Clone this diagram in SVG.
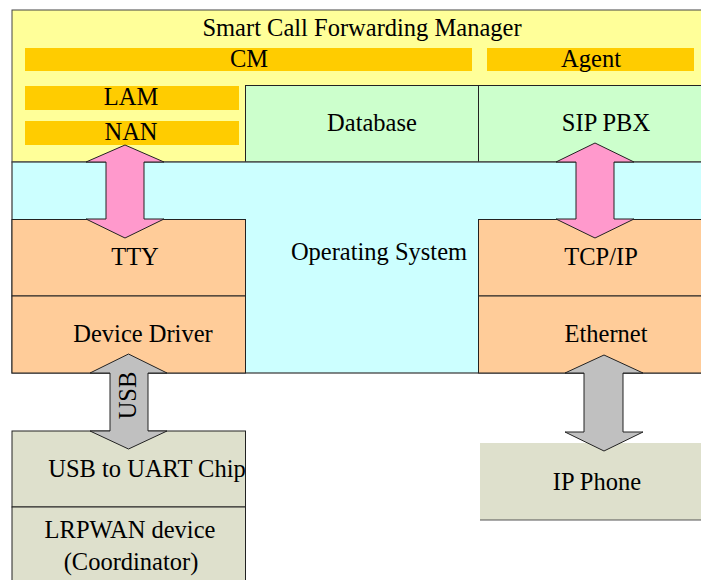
<svg xmlns="http://www.w3.org/2000/svg" width="701" height="580" viewBox="0 0 701 580">
<style>
text{font-family:"Liberation Serif","Times New Roman",serif;font-size:24.5px;fill:#000}
.m{text-anchor:middle}
.box{stroke:#222;stroke-width:1}
.bar{fill:#FFCC00}
.pink{fill:#FF99CC;stroke:#222;stroke-width:1}
.grey{fill:#C0C0C0;stroke:#222;stroke-width:1}
</style>
<rect width="701" height="580" fill="#fff"/>
<g id="scfm">
<rect x="12" y="10" width="700" height="152" fill="#FFFF99" stroke="#444" stroke-width="1"/>
<text class="m" x="362" y="36">Smart Call Forwarding Manager</text>
</g>
<g id="cm"><rect class="bar" x="25" y="48" width="447" height="23"/><text class="m" x="249" y="67">CM</text></g>
<g id="agent"><rect class="bar" x="487" y="48" width="207" height="23"/><text class="m" x="591" y="67">Agent</text></g>
<g id="lam"><rect class="bar" x="25" y="86" width="214" height="24"/><text class="m" x="131" y="105">LAM</text></g>
<g id="nan"><rect class="bar" x="25" y="121" width="214" height="24"/><text class="m" x="131" y="140">NAN</text></g>
<g id="database"><rect class="box" x="245.5" y="85.5" width="233" height="76.5" fill="#CCFFCC"/><text class="m" x="372" y="131">Database</text></g>
<g id="sippbx"><rect class="box" x="478.5" y="85.5" width="240" height="76.5" fill="#CCFFCC"/><text class="m" x="606" y="131">SIP PBX</text></g>
<g id="os"><rect x="12" y="162" width="710" height="211" fill="#CCFFFF" stroke="#444" stroke-width="1.3"/><text class="m" x="379" y="260">Operating System</text></g>
<g id="tty"><rect class="box" x="12" y="219.5" width="233.5" height="76.5" fill="#FFCC99"/><text class="m" x="135" y="265">TTY</text></g>
<g id="devdrv"><rect class="box" x="12" y="296" width="233.5" height="77" fill="#FFCC99"/><text class="m" x="143" y="342">Device Driver</text></g>
<g id="tcpip"><rect class="box" x="478.5" y="219.5" width="240" height="76.5" fill="#FFCC99"/><text class="m" x="601" y="265">TCP/IP</text></g>
<g id="ethernet"><rect class="box" x="478.5" y="296" width="240" height="77" fill="#FFCC99"/><text class="m" x="606" y="342">Ethernet</text></g>
<g id="uart"><rect class="box" x="12" y="431" width="233.5" height="76" fill="#DEE0CC"/><text class="m" x="147" y="477">USB to UART Chip</text></g>
<g id="lrpwan"><rect class="box" x="12" y="507" width="233.5" height="90" fill="#DEE0CC"/><text class="m" x="130" y="538">LRPWAN device</text><text class="m" x="131" y="570">(Coordinator)</text></g>
<g id="ipphone"><rect x="480" y="443" width="230" height="77" fill="#DEE0CC"/><line x1="480" y1="520" x2="701" y2="520" stroke="#555" stroke-width="1"/><text class="m" x="597" y="490">IP Phone</text></g>
<g id="connectors">
<polygon class="pink" points="125,145 164,162 144,162 144,219 164,219 125,238 86,219 106,219 106,162 86,162"/>
<polygon class="pink" points="595,143 634,162 614,162 614,219 634,219 595,238 556,219 576,219 576,162 556,162"/>
<polygon class="grey" points="128.5,354 167,373 148,373 148,431 167,431 128.5,449 90,431 110,431 110,373 90,373"/>
<text class="m" transform="translate(136,395.5) rotate(-90)" x="0" y="0">USB</text>
<polygon class="grey" points="604,355 643,373 623,373 623,432 643,432 604,451 565,432 584,432 584,373 565,373"/>
</g>
</svg>
